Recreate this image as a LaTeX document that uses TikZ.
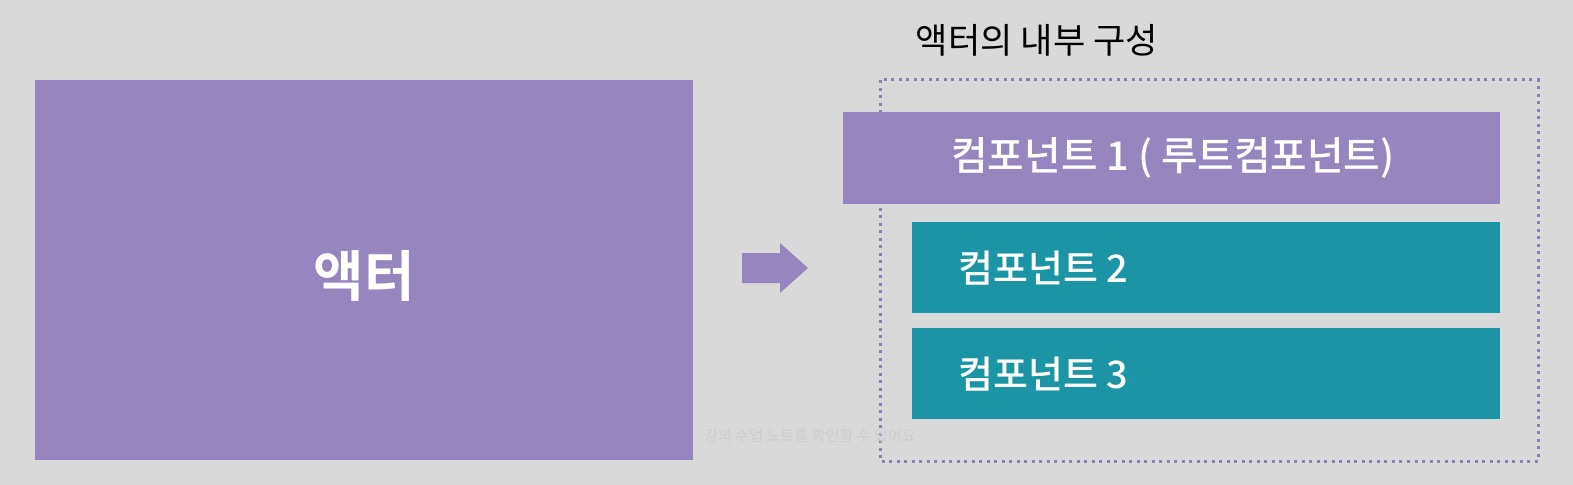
\documentclass[tikz,border=0pt]{standalone}
\usepackage{fontspec}
\setmainfont{Noto Sans CJK KR}
\newfontfamily\krbold{Noto Sans CJK KR Bold}
\newfontfamily\krmed{Noto Sans CJK KR Medium}
\usepackage{tikz}
\usetikzlibrary{positioning, calc}
\definecolor{bgray}{RGB}{217,217,217}
\definecolor{mypurple}{RGB}{150,133,190}
\definecolor{myteal}{RGB}{27,149,165}
\definecolor{mydots}{RGB}{140,128,180}
\definecolor{faint}{RGB}{205,205,205}
\tikzset{
  actorbox/.style={rectangle, fill=mypurple, inner sep=0pt},
  rootbar/.style={rectangle, fill=mypurple, inner sep=0pt},
  compbar/.style={rectangle, fill=myteal, inner sep=0pt},
  bartext/.style={text=white, font=\krmed\fontsize{10.8pt}{12pt}\selectfont},
  dotbox/.style={draw=mydots, line width=0.03cm, dash pattern=on 0.03cm off 0.045cm}
}

\begin{document}
\begin{tikzpicture}[x=0.01cm, y=-0.01cm]
  % background
  \fill[bgray] (0,0) rectangle (1573,485);
  \useasboundingbox (0,0) rectangle (1573,485);
  % actor
  \fill[actorbox] (35,80) rectangle (693,460);
  \node (actor) at (364,276) [text=white, font=\krbold\fontsize{15.6pt}{17pt}\selectfont] {액터};
  % arrow
  \fill[mypurple] (742,253) -- (780,253) -- (780,243) -- (808,268)
    -- (780,293) -- (780,283) -- (742,283) -- cycle;
  % title
  \node (title) at (1037,40) [font=\fontsize{10pt}{12pt}\selectfont] {액터의 내부 구성};
  % dotted frame
  \draw[dotbox] (880,80) rectangle (1538,461);
  % components
  \fill[rootbar] (843,112) rectangle (1500,204);
  \node (comp1) at (1173,158) [bartext, font=\krmed\fontsize{11.3pt}{12pt}\selectfont] {컴포넌트 1 ( 루트컴포넌트)};
  \fill[compbar] (912,222) rectangle (1500,313);
  \node (comp2) at (946,268) [bartext, anchor=west] {컴포넌트 2};
  \fill[compbar] (912,328) rectangle (1500,419);
  \node (comp3) at (946,374) [bartext, anchor=west] {컴포넌트 3};
  % overlay note
  \node (note) at (810,436) [text=faint, font=\fontsize{4.3pt}{5pt}\selectfont] {강의 수업 노트를 확인할 수 있어요};
\end{tikzpicture}
\end{document}
